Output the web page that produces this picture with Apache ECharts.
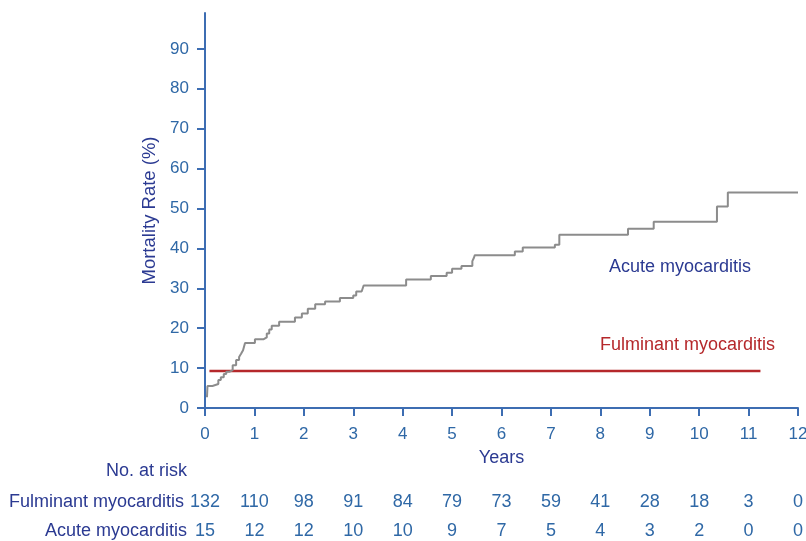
<!DOCTYPE html>
<html>
<head>
<meta charset="utf-8">
<script src="https://cdn.jsdelivr.net/npm/echarts@6/dist/echarts.min.js"></script>
<style>
	html, body { margin: 0; padding: 0; background: #fff; }
	#main { width: 806px; height: 541px; }
</style>
</head>
<body>
<div id="main"></div>
<script>
// 死亡率曲线 + 风险人数表.
;(function(){
	// 急性心肌炎 阶梯曲线 [年, 死亡率%]
	var acuteCurve = [
		[0.04, 2.7], [0.05, 5.5], [0.15, 6.0], [0.27, 7.0], [0.32, 7.7],
		[0.38, 8.5], [0.43, 9.1], [0.50, 9.5], [0.56, 10.7], [0.63, 12.0],
		[0.69, 12.8], [0.73, 13.6], [0.77, 14.5], [0.81, 16.3], [1.01, 17.2],
		[1.18, 17.7], [1.25, 18.7], [1.30, 19.7], [1.35, 20.6], [1.50, 21.6],
		[1.82, 22.7], [1.96, 23.7], [2.08, 24.9], [2.23, 26.0], [2.43, 26.7],
		[2.73, 27.6], [3.00, 28.2], [3.06, 29.2], [3.17, 29.7], [3.21, 30.7],
		[4.07, 32.2], [4.57, 33.1], [4.89, 33.9], [5.00, 34.9], [5.19, 35.6],
		[5.41, 36.8], [5.44, 37.6], [5.46, 38.3], [6.27, 39.2], [6.43, 40.2],
		[7.08, 40.9], [7.17, 43.4], [8.56, 44.9], [9.08, 46.7], [10.36, 50.5],
		[10.58, 54.0], [12.00, 54.0]
	];
	// 暴发性心肌炎 (水平线)
	var fulminantCurve = [[0.09, 9.3], [11.24, 9.3]];

	// 风险人数
	var years = [0, 1, 2, 3, 4, 5, 6, 7, 8, 9, 10, 11, 12];
	var fulminantRisk = [132, 110, 98, 91, 84, 79, 73, 59, 41, 28, 18, 3, 0];
	var acuteRisk = [15, 12, 12, 10, 10, 9, 7, 5, 4, 3, 2, 0, 0];
	var yTicks = [0, 10, 20, 30, 40, 50, 60, 70, 80, 90];

	var font = 'Liberation Sans, Arial, Helvetica, sans-serif';
	var axisBlue = '#3d6db2';
	var tickText = '#2f68a6';
	var navy = '#2b3a92';
	var red = '#b5282b';

	var riskAxis = function(name, values, offset) {
		return {
			type: 'value',
			min: 0,
			max: 12,
			interval: 1,
			position: 'bottom',
			offset: offset,
			name: name,
			nameLocation: 'start',
			nameGap: 18,
			nameTextStyle: { color: navy, fontSize: 18, fontFamily: font },
			axisLine: { show: false },
			axisTick: { show: false },
			splitLine: { show: false },
			axisLabel: {
				margin: 0,
				verticalAlign: 'middle',
				color: tickText,
				fontSize: 18,
				fontFamily: font,
				formatter: function(v) {
					var i = years.indexOf(v);
					return i < 0 ? '' : String(values[i]);
				}
			}
		};
	};

	var chart = echarts.init(document.getElementById('main'));
	var option = {
		animation: false,
		grid: { left: 205, right: 8, top: 13, bottom: 133, containLabel: false, outerBoundsMode: 'none' },
		xAxis: [
			{
				type: 'value',
				min: 0,
				max: 12,
				interval: 1,
				name: 'Years',
				nameLocation: 'middle',
				nameGap: 41,
				nameTextStyle: { color: navy, fontSize: 18, fontFamily: font },
				axisLine: { lineStyle: { color: axisBlue, width: 2 } },
				axisTick: { length: 8, lineStyle: { color: axisBlue, width: 2 } },
				splitLine: { show: false },
				axisLabel: { margin: 18, color: tickText, fontSize: 17, fontFamily: font }
			},
			riskAxis('Fulminant myocarditis', fulminantRisk, 94),
			riskAxis('Acute myocarditis', acuteRisk, 123)
		],
		yAxis: {
			type: 'value',
			min: 0,
			max: 99,
			interval: 10,
			name: 'Mortality Rate (%)',
			nameLocation: 'middle',
			nameGap: 40,
			nameTextStyle: { color: navy, fontSize: 18.5, fontFamily: font },
			axisLine: { show: true, lineStyle: { color: axisBlue, width: 2 } },
			axisTick: { show: true, length: 8, customValues: yTicks, lineStyle: { color: axisBlue, width: 2 } },
			splitLine: { show: false },
			axisLabel: { margin: 16, customValues: yTicks, color: tickText, fontSize: 17, fontFamily: font }
		},
		graphic: [
			{
				type: 'text', left: 609, top: 258,
				style: { text: 'Acute myocarditis', fill: navy, font: '18px ' + font }
			},
			{
				type: 'text', left: 600, top: 336,
				style: { text: 'Fulminant myocarditis', fill: red, font: '18px ' + font }
			},
			{
				type: 'text', right: 806 - 187, top: 462,
				style: { text: 'No. at risk', fill: navy, font: '18px ' + font, textAlign: 'right' }
			}
		],
		series: [
			{
				type: 'line',
				step: 'end',
				data: acuteCurve,
				showSymbol: false,
				lineStyle: { color: '#8c8c8c', width: 2 },
				z: 3
			},
			{
				type: 'line',
				data: fulminantCurve,
				showSymbol: false,
				lineStyle: { color: red, width: 2.5 },
				z: 2
			}
		]
	};
	option && chart.setOption(option);
})();
</script>
</body>
</html>
